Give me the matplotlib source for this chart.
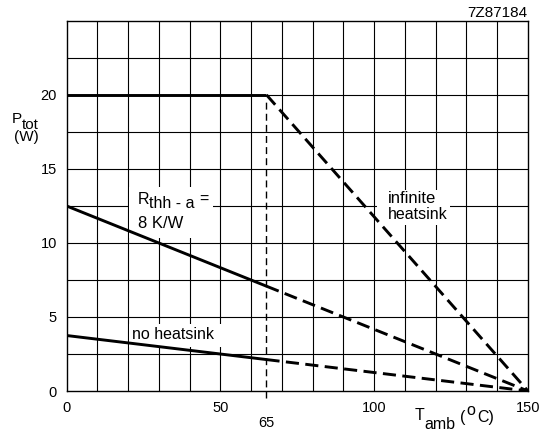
import matplotlib
matplotlib.use("Agg")
import matplotlib.pyplot as plt
import matplotlib.transforms as mtransforms
from matplotlib.patches import Rectangle

plt.rcParams['font.family'] = ['Liberation Sans', 'DejaVu Sans']

# Derating curves: total power vs ambient temperature
t_knee = 65
t_max = 150
inf_heatsink = [20.0, 20.0, 0.0]       # at 0, 65, 150 degC
rth_8kw = [12.5, 7.08, 0.0]
no_heatsink = [3.75, 2.125, 0.0]
temps = [0, t_knee, t_max]

x_ticks = [0, 50, 100, 150]
y_ticks = [0, 5, 10, 15, 20]

fig = plt.figure(figsize=(5.51, 4.34), dpi=100)
ax = fig.add_axes([0.1207, 0.099, 0.8376, 0.853])
ax.set_xlim(0, 150)
ax.set_ylim(0, 25)

# grid every 10 degC and every 2.5 W
for gx in range(10, 150, 10):
    ax.axvline(gx, color='black', lw=0.8, zorder=1)
for gy in [2.5 * i for i in range(1, 10)]:
    ax.axhline(gy, color='black', lw=0.8, zorder=1)
for s in ax.spines.values():
    s.set_linewidth(1.0)

ax.set_xticks(x_ticks)
ax.set_yticks(y_ticks)
ax.tick_params(length=0, labelsize=10.5, pad=7)

dash = (0, (4.5, 2.2))
for curve in (inf_heatsink, rth_8kw, no_heatsink):
    ax.plot(temps[:2], curve[:2], color='black', lw=2.1, solid_capstyle='butt', zorder=5)
    ax.plot(temps[1:], curve[1:], color='black', lw=2.1, linestyle=dash, zorder=5)

# knee marker at 65 degC
ax.plot([t_knee, t_knee], [-0.45, inf_heatsink[1] - 0.2], color='black', lw=1,
        linestyle=(0, (5, 3)), clip_on=False, zorder=4)
trans = mtransforms.blended_transform_factory(ax.transData, ax.transAxes)
ax.text(t_knee, -0.085, '65', transform=trans, ha='center', va='center', fontsize=10.5)


def chain(x, y, pieces, transform, size=11, zorder=3):
    """Draw text pieces one after another; each piece is (text, dx, dy) in points."""
    first, *rest = pieces
    art = ax.text(x, y, first[0], transform=transform, fontsize=size,
                  ha='left', va='bottom', zorder=zorder)
    for txt, dx, dy in rest:
        art = ax.annotate(txt, xy=(1, 0), xycoords=art, xytext=(dx, dy),
                          textcoords='offset points', fontsize=size,
                          ha='left', va='bottom', zorder=zorder,
                          annotation_clip=False)


def blank(x0, x1, y0, y1):
    """White patch that hides the grid behind a label."""
    ax.add_patch(Rectangle((x0, y0), x1 - x0, y1 - y0, facecolor='white',
                           edgecolor='none', zorder=2))


blank(20.4, 47.6, 10.35, 13.75)
chain(23.0, 12.45, [('R', 0, 0), ('thh - a', 0.5, -3), ('=', 3, 3)],
      ax.transData, size=11.5)
ax.text(23.2, 11.3, '8 K/W', fontsize=12, va='center', ha='left', zorder=3)

blank(101.0, 124.6, 11.2, 13.6)
ax.text(104.5, 13.0, 'infinite', fontsize=12, va='center', ha='left', zorder=3)
ax.text(104.5, 11.9, 'heatsink', fontsize=11.5, va='center', ha='left', zorder=3)

blank(20.4, 50.6, 3.0, 4.55)
ax.text(21.3, 3.8, 'no heatsink', fontsize=11.5, va='center', ha='left', zorder=3)

# axis titles with full-size subscripts
chain(-0.118, 0.717, [('P', 0, 0), ('tot', 0, -4.3)], ax.transAxes, size=11)
ax.text(-0.0867, 0.686, '(W)', transform=ax.transAxes, fontsize=11,
        ha='center', va='center')
chain(0.755, -0.087, [('T', 0, 0), ('amb', 0, -6), ('(', 3, 4.5),
                      ('o', 1, 5), ('C)', 1, -5)], ax.transAxes, size=11.5)
fig.text(0.957, 0.97, '7Z87184', fontsize=11, ha='right', va='center')

fig.savefig('out.png', dpi=100)
